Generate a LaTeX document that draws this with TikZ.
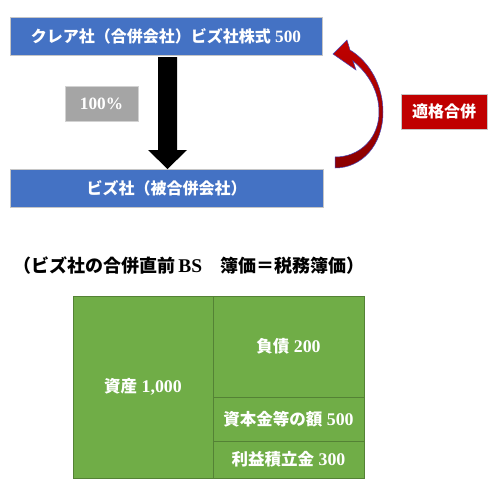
\documentclass[tikz,border=0pt]{standalone}
\usepackage{fontspec}
\setmainfont{Liberation Serif}[BoldFont=* Bold, Scale=1.08]
\newfontfamily\cjk{Noto Sans CJK JP}
\newcommand\J[1]{{\cjk #1}}
\definecolor{boxblue}{HTML}{4472C4}
\definecolor{boxgray}{HTML}{A5A5A5}
\definecolor{boxred}{HTML}{C00000}
\definecolor{bsgreen}{HTML}{70AD47}
\definecolor{bsline}{HTML}{548235}
\definecolor{darkred}{HTML}{8B0000}
\begin{document}
\begin{tikzpicture}[x=1pt,y=-1pt,
  lbl/.style={font=\fontsize{16}{18}\selectfont\bfseries, text=white, inner sep=0pt, outer sep=0pt},
  bluebox/.style={lbl, fill=boxblue, draw=gray!45, line width=0.8pt, minimum height=38pt},
  graybox/.style={lbl, fill=boxgray, draw=gray!35, line width=0.8pt},
  redbox/.style={lbl, fill=boxred, draw=gray!45, line width=0.8pt},
  bscell/.style={lbl, font=\fontsize{16.5}{18}\selectfont\bfseries, fill=bsgreen, draw=bsline, line width=0.9pt}]
\useasboundingbox (0,0) rectangle (498,491);
\fill[white] (0,0) rectangle (498,491);
% top and bottom company boxes
\node[bluebox, minimum width=312pt] (top) at (166,36) {\J{クレア社（合併会社）ビズ社株式} 500};
\node[bluebox, minimum width=313pt] (bot) at (166.5,188) {\J{ビズ社（被合併会社）}};
% percentage and qualified merger labels
\node[graybox, minimum width=73pt, minimum height=35pt] (pct) at (101.5,103.5) {100\%};
\node[redbox, minimum width=86pt, minimum height=35pt] (qm) at (444,111.5) {\J{適格合併}};
% black block arrow from top to bottom
\fill[black] (158,57) -- (177,57) -- (177,150) -- (187,150) -- (167.5,169) -- (148,150) -- (158,150) -- cycle;
% red curved arrow
\shade[top color=boxred, bottom color=darkred, draw=blue!45!gray, line width=0.5pt]
  (335,157) -- (335,168)
  .. controls (362,168) and (383,145) .. (383,112)
  .. controls (383,86) and (370,62) .. (350,50)
  -- (347,40) -- (333,54) -- (356,70) -- (353,61)
  .. controls (369,74) and (379,92) .. (379,112)
  .. controls (379,138) and (360,157) .. (335,157) -- cycle;
% title
\node[font=\fontsize{18}{20}\selectfont\bfseries, anchor=west, inner sep=0pt] (title) at (13,266) {\J{（ビズ社の合併直前}\,BS\J{　簿価＝税務簿価）}};
% balance sheet
\node[bscell, minimum width=140pt, minimum height=182pt] (asset) at (143,387) {\J{資産} 1,000};
\node[bscell, minimum width=151pt, minimum height=101pt] (liab) at (288.5,346.5) {\J{負債} 200};
\node[bscell, minimum width=151pt, minimum height=44pt] (cap) at (288.5,419) {\J{資本金等の額} 500};
\node[bscell, minimum width=151pt, minimum height=37pt] (ret) at (288.5,459.5) {\J{利益積立金} 300};
\end{tikzpicture}
\end{document}
